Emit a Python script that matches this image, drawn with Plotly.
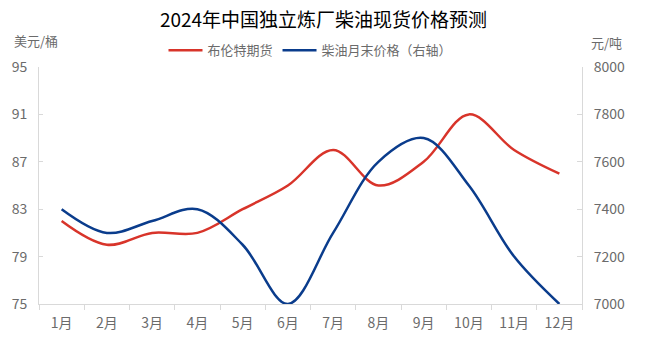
import plotly.graph_objects as go

months = ["1月", "2月", "3月", "4月", "5月", "6月", "7月", "8月", "9月", "10月", "11月", "12月"]
brent = [82, 80, 81, 81, 83, 85, 88, 85, 87, 91, 88, 86]
diesel = [7400, 7300, 7350, 7400, 7250, 7000, 7300, 7600, 7700, 7500, 7200, 7000]

font_cjk = "Noto Sans CJK SC"
grey = "#6b6b6b"
axis_grey = "#d9d9d9"

fig = go.Figure()
fig.add_trace(go.Scatter(
    x=months, y=brent, name="布伦特期货", mode="lines",
    line=dict(color="#d8342a", width=2.5, shape="spline", smoothing=1.0),
))
fig.add_trace(go.Scatter(
    x=months, y=diesel, name="柴油月末价格（右轴）", mode="lines", yaxis="y2",
    line=dict(color="#0a3c8c", width=2.5, shape="spline", smoothing=1.0),
))

fig.update_layout(
    width=647, height=344,
    margin=dict(l=39, r=65, t=67, b=37),
    paper_bgcolor="white", plot_bgcolor="white",
    font=dict(family=font_cjk, color=grey, size=13),
    title=dict(text="2024年中国独立炼厂柴油现货价格预测", x=0.5, xanchor="center",
               y=0.942, yanchor="middle",
               font=dict(family=font_cjk, size=19, color="#000000")),
    legend=dict(orientation="h", x=0.5, xanchor="center", y=1.07, yanchor="middle",
                font=dict(size=13, color=grey), itemwidth=34, bgcolor="rgba(0,0,0,0)"),
    xaxis=dict(
        range=[-0.5, 11.5],
        showline=True, linecolor=axis_grey, linewidth=1, showgrid=False,
        ticks="outside", tickson="boundaries", ticklen=5, tickcolor=axis_grey,
        ticklabelstandoff=6, tickfont=dict(size=14, color=grey),
    ),
    yaxis=dict(
        range=[75, 95], tickvals=[75, 79, 83, 87, 91, 95],
        showline=True, linecolor=axis_grey, linewidth=1, showgrid=False,
        zeroline=False, ticks="inside", ticklen=4, tickcolor=axis_grey,
        ticklabelstandoff=8, tickfont=dict(size=14, color=grey),
    ),
    yaxis2=dict(
        range=[7000, 8000], tickvals=[7000, 7200, 7400, 7600, 7800, 8000],
        overlaying="y", side="right",
        showline=True, linecolor=axis_grey, linewidth=1, showgrid=False,
        zeroline=False, ticks="inside", ticklen=5, tickcolor=axis_grey,
        ticklabelstandoff=8, tickfont=dict(size=14, color=grey),
    ),
    annotations=[
        dict(text="美元/桶", xref="paper", yref="paper", x=-0.05, y=1.112,
             xanchor="left", yanchor="middle", showarrow=False,
             font=dict(size=13, color=grey)),
        dict(text="元/吨", xref="paper", yref="paper", x=1.013, y=1.104,
             xanchor="left", yanchor="middle", showarrow=False,
             font=dict(size=13, color=grey)),
    ],
)

fig.write_html("out.html")
